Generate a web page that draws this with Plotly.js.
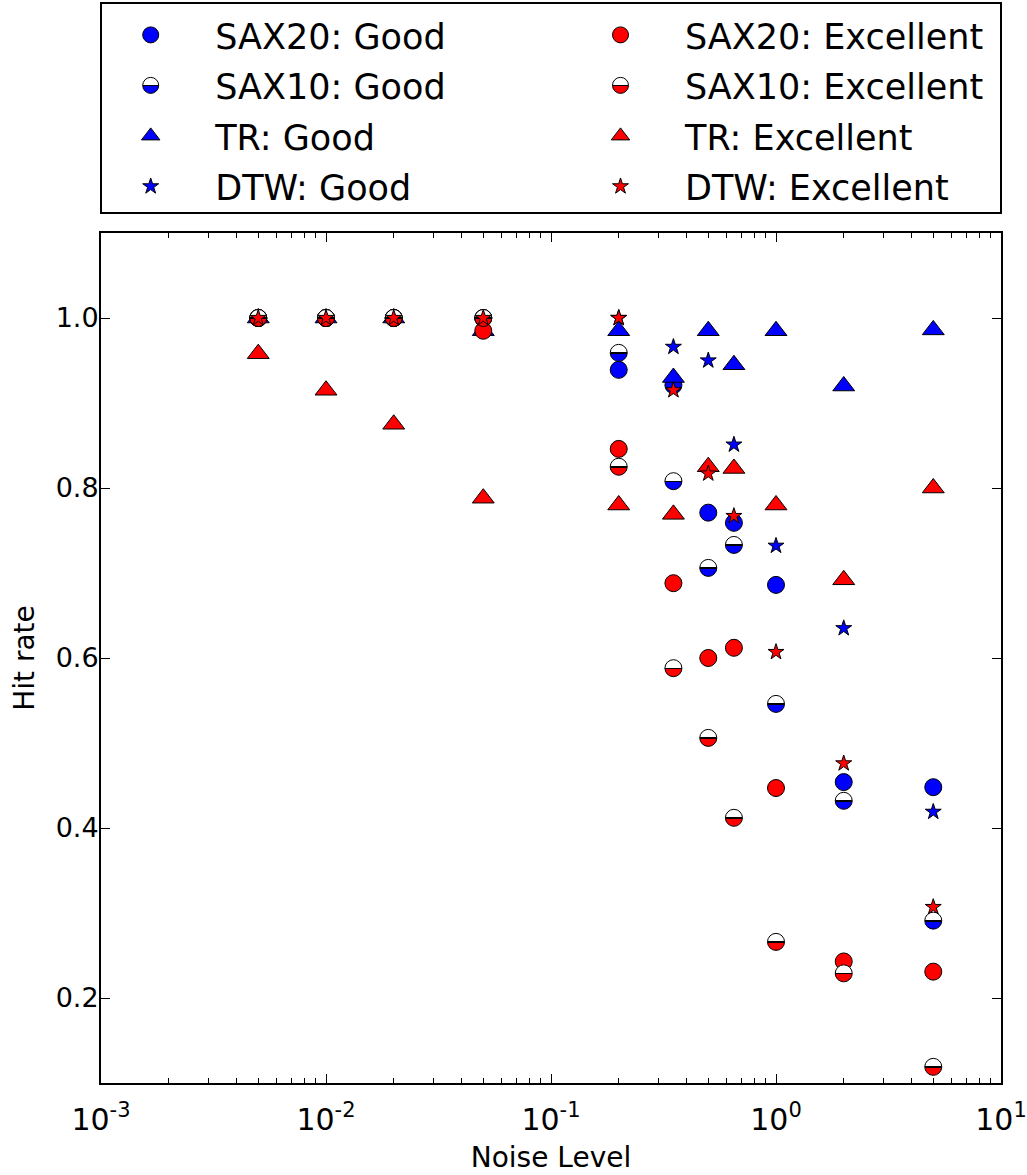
<!DOCTYPE html>
<html>
<head>
<meta charset="utf-8">
<script src="https://cdn.plot.ly/plotly-3.0.1.min.js"></script>
<style>html,body{margin:0;padding:0;background:#fff;}#chart{width:1027px;height:1175px;}</style>
</head>
<body>
<div id="chart"></div>
<script>
var noise = [0.005, 0.01, 0.02, 0.05, 0.2, 0.35, 0.5, 0.65, 1, 2, 5];

var sax20Good = [1.0, 1.0, 1.0, 1.0, 0.939, 0.921, 0.771, 0.759, 0.686, 0.454, 0.448];
var sax10Good = [1.0, 1.0, 1.0, 1.0, 0.959, 0.808, 0.706, 0.733, 0.546, 0.432, 0.291];
var trGood    = [1.0, 1.0, 1.0, 0.985, 0.985, 0.930, 0.985, 0.945, 0.985, 0.920, 0.986];
var dtwGood   = [1.0, 1.0, 1.0, 1.0, 1.0, 0.966, 0.950, 0.851, 0.732, 0.635, 0.419];

var sax20Exc = [1.0, 1.0, 1.0, 0.985, 0.846, 0.688, 0.600, 0.612, 0.447, 0.243, 0.231];
var sax10Exc = [1.0, 1.0, 1.0, 1.0, 0.825, 0.588, 0.506, 0.412, 0.266, 0.229, 0.119];
var trExc    = [0.958, 0.915, 0.875, 0.788, 0.780, 0.769, 0.825, 0.823, 0.780, 0.692, 0.800];
var dtwExc   = [1.0, 1.0, 1.0, 1.0, 1.0, 0.915, 0.817, 0.767, 0.607, 0.476, 0.307];

var seriesNames = ['SAX20: Good', 'SAX10: Good', 'TR: Good', 'DTW: Good',
                   'SAX20: Excellent', 'SAX10: Excellent', 'TR: Excellent', 'DTW: Excellent'];

var xTickVals = [0.001, 0.01, 0.1, 1, 10];
var xTickText = ['10<sup>-3</sup>', '10<sup>-2</sup>', '10<sup>-1</sup>', '10<sup>0</sup>', '10<sup>1</sup>'];
var yTickVals = [0.2, 0.4, 0.6, 0.8, 1.0];

var BLUE = '#0000ff', RED = '#ff0000';
var PAD = '\u00a0\u00a0\u00a0\u00a0';

function mk(idx, y, symbol, color, size, half, legendId) {
  var marker = {symbol: symbol, size: size, color: color, line: {color: '#000', width: 1}};
  if (half) {
    marker.color = '#ffffff';
    marker.gradient = {type: 'vertical', color: color};
  }
  return {
    type: 'scatter', mode: 'markers', x: noise, y: y, name: PAD + seriesNames[idx],
    legendgroup: 'g' + idx,
    marker: marker, legend: legendId, hoverinfo: 'x+y+name'
  };
}

var data = [
  mk(0, sax20Good, 'circle', BLUE, 17, false, 'legend'),
  mk(1, sax10Good, 'circle', BLUE, 17, true, 'legend'),
  mk(2, trGood, 'triangle-up', BLUE, 19, false, 'legend'),
  mk(3, dtwGood, 'star', BLUE, 12, false, 'legend'),
  mk(4, sax20Exc, 'circle', RED, 17, false, 'legend2'),
  mk(5, sax10Exc, 'circle', RED, 17, true, 'legend2'),
  mk(6, trExc, 'triangle-up', RED, 19, false, 'legend2'),
  mk(7, dtwExc, 'star', RED, 12, false, 'legend2')
];

var FONT = 'DejaVu Sans';
var legendCommon = {
  yanchor: 'top', xanchor: 'left', bgcolor: 'rgba(0,0,0,0)', borderwidth: 0,
  font: {family: FONT, size: 35, color: '#000'}, orientation: 'v', tracegroupgap: 2
};

var layout = {
  width: 1027, height: 1175,
  margin: {l: 101, r: 26, t: 233, b: 92, pad: 0, autoexpand: false},
  paper_bgcolor: '#fff', plot_bgcolor: '#fff',
  font: {family: FONT, color: '#000'},
  showlegend: true,
  legend: Object.assign({x: 0.033, y: 1.2675}, legendCommon),
  legend2: Object.assign({x: 0.555, y: 1.2675}, legendCommon),
  xaxis: {
    type: 'log', range: [-3, 1], tickmode: 'array', tickvals: xTickVals, ticktext: xTickText,
    ticks: 'inside', ticklen: 9, tickwidth: 1, tickcolor: '#000',
    mirror: 'allticks', showline: true, linewidth: 2, linecolor: '#000',
    showgrid: false, zeroline: false,
    minor: {ticks: 'inside', ticklen: 5, tickwidth: 1, tickcolor: '#000', dtick: 'D1', showgrid: false},
    tickfont: {family: FONT, size: 30, color: '#000'},
    ticklabelstandoff: 9,
    title: {text: 'Noise Level', font: {family: FONT, size: 28, color: '#000'}, standoff: 11},
    automargin: false
  },
  yaxis: {
    range: [0.1, 1.1], tickmode: 'array', tickvals: yTickVals, tickformat: '.1f',
    ticks: 'inside', ticklen: 9, tickwidth: 1, tickcolor: '#000',
    mirror: 'allticks', showline: true, linewidth: 2, linecolor: '#000',
    showgrid: false, zeroline: false,
    ticklabelstandoff: -5,
    tickfont: {family: FONT, size: 27, color: '#000'},
    title: {text: 'Hit rate', font: {family: FONT, size: 28, color: '#000'}, standoff: 13},
    automargin: false
  },
  shapes: [{
    type: 'rect', xref: 'paper', yref: 'paper',
    x0: 0, x1: 1, y0: 1.0235, y1: 1.2706,
    line: {color: '#000', width: 2}, fillcolor: 'rgba(0,0,0,0)'
  }]
};

function sharpenHalves(gd) {
  var grads = gd.querySelectorAll('linearGradient');
  grads.forEach(function (g) {
    var stops = g.querySelectorAll('stop');
    if (stops.length < 2) return;
    var c0 = stops[0].getAttribute('stop-color');
    var o0 = stops[0].getAttribute('stop-opacity') || '1';
    var c1 = stops[stops.length - 1].getAttribute('stop-color');
    var o1 = stops[stops.length - 1].getAttribute('stop-opacity') || '1';
    while (g.firstChild) g.removeChild(g.firstChild);
    var spec = [[0, c0, o0], [0.45, c0, o0], [0.45, '#000', '1'], [0.54, '#000', '1'], [0.54, c1, o1], [1, c1, o1]];
    spec.forEach(function (s) {
      var st = document.createElementNS('http://www.w3.org/2000/svg', 'stop');
      st.setAttribute('offset', (s[0] * 100) + '%');
      st.setAttribute('stop-color', s[1]);
      st.setAttribute('stop-opacity', s[2]);
      g.appendChild(st);
    });
  });
}

Plotly.newPlot('chart', data, layout, {displayModeBar: false, staticPlot: true}).then(function (gd) {
  sharpenHalves(gd);
});
</script>
</body>
</html>
